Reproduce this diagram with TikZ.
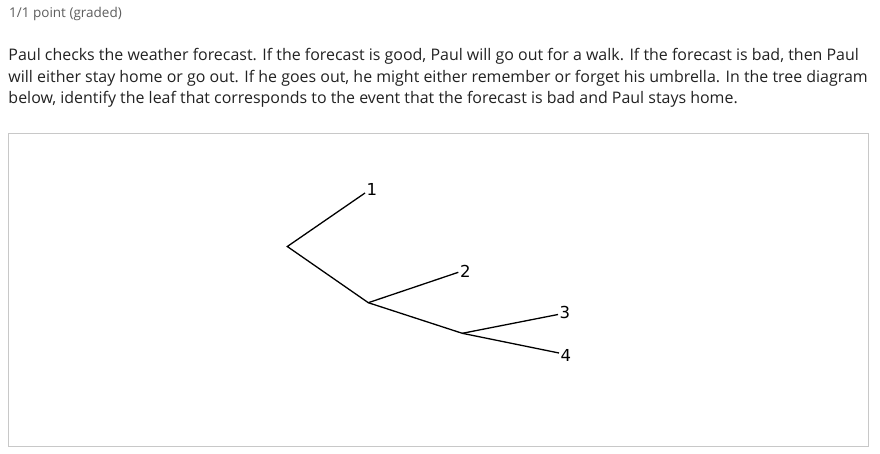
\documentclass[tikz,border=0pt]{standalone}
\usepackage{fontspec}
\setmainfont{Open Sans}
\newfontfamily\labfont{DejaVu Sans}
\definecolor{headgray}{HTML}{5E5E5E}
\definecolor{bodytext}{HTML}{222222}
\definecolor{boxgray}{HTML}{C8C8C8}
\begin{document}
\begin{tikzpicture}[x=1pt,y=-1pt,
  bodyline/.style={anchor=base west,inner sep=0pt,text=bodytext,font=\fontsize{15.95}{20}\selectfont},
  headline/.style={anchor=base west,inner sep=0pt,text=headgray,font=\fontsize{13.5}{16}\selectfont},
  branch/.style={line width=1.3pt,black},
  leaflab/.style={anchor=west,inner sep=1.5pt,font=\labfont\fontsize{16.5}{20}\selectfont}]
\useasboundingbox[fill=white] (0,0) rectangle (880,453);
\node[headline] (head) at (9,17) {1/1 point (graded)};
\node[bodyline] (l1) at (8.3,60.7) {Paul checks the weather forecast. If the forecast is good, Paul will go out for a walk. If the forecast is bad, then Paul};
\node[bodyline] (l2) at (8.3,82.2) {will either stay home or go out. If he goes out, he might either remember or forget his umbrella. In the tree diagram};
\node[bodyline] (l3) at (8.3,103.7) {below, identify the leaf that corresponds to the event that the forecast is bad and Paul stays home.};
\draw[boxgray,line width=1pt] (8.5,133.5) rectangle (868.5,446.5);
% tree
\coordinate (root) at (287.3,246.5);
\coordinate (e1) at (365,193);
\coordinate (na) at (368.3,302.7);
\coordinate (e2) at (458.3,272.3);
\coordinate (nb) at (462.3,333.3);
\coordinate (e3) at (558,314.5);
\coordinate (e4) at (559,353);
\draw[branch] (e1) -- (root) -- (na) -- (nb) -- (e4);
\draw[branch] (na) -- (e2);
\draw[branch] (nb) -- (e3);
\node[leaflab] (t1) at ([yshift=3.5pt]e1) {1};
\node[leaflab] (t2) at ([yshift=0.5pt]e2) {2};
\node[leaflab] (t3) at ([yshift=2.5pt]e3) {3};
\node[leaflab] (t4) at ([yshift=-2pt]e4) {4};
\end{tikzpicture}
\end{document}
